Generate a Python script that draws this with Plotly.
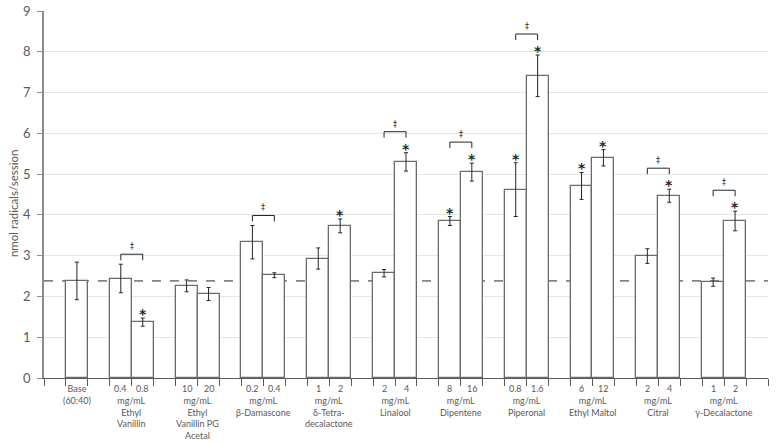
import plotly.graph_objects as go

# ---------------- data ----------------
base_label = "Base<br>(60:40)"
base_mean = 2.38
base_err = 0.46

group_names = ["Ethyl<br>Vanillin", "Ethyl<br>Vanillin PG<br>Acetal", "β-Damascone",
               "δ-Tetra-<br>decalactone", "Linalool", "Dipentene", "Piperonal",
               "Ethyl Maltol", "Citral", "γ-Decalactone"]
unit_label = "mg/mL"
concentrations = [["0.4", "0.8"], ["10", "20"], ["0.2", "0.4"], ["1", "2"], ["2", "4"],
                  ["8", "16"], ["0.8", "1.6"], ["6", "12"], ["2", "4"], ["1", "2"]]
means = [[2.44, 1.37], [2.26, 2.06], [3.33, 2.52], [2.93, 3.73], [2.57, 5.30],
         [3.85, 5.05], [4.62, 7.41], [4.71, 5.40], [2.99, 4.47], [2.35, 3.85]]
errors = [[0.35, 0.10], [0.145, 0.16], [0.41, 0.06], [0.26, 0.17], [0.09, 0.225],
          [0.11, 0.22], [0.66, 0.51], [0.33, 0.20], [0.18, 0.16], [0.10, 0.24]]
asterisk = [[False, True], [False, False], [False, False], [False, True], [False, True],
            [True, True], [True, True], [True, True], [False, True], [False, True]]
dagger = [True, False, True, False, True, True, True, False, True, True]

y_title = "nmol radicals/session"
y_ticks = [0, 1, 2, 3, 4, 5, 6, 7, 8, 9]

# ---------------- layout helpers ----------------
N_SLOTS = 33
PLOT_H_PX = 367.0
Y_MAX = 9.0
px = Y_MAX / PLOT_H_PX   # data units per pixel

xs, ys, es = [1], [base_mean], [base_err]
for g in range(len(group_names)):
    for b in range(2):
        xs.append(3 + 3 * g + b)
        ys.append(means[g][b])
        es.append(errors[g][b])

FONT = "Lato, Calibri, Carlito, sans-serif"
GRAY = "#595959"
INK = "#262626"

fig = go.Figure()
fig.add_trace(go.Bar(
    x=xs, y=ys, width=1.0,
    marker=dict(color="white", line=dict(color="#6b6b6b", width=1.3)),
    error_y=dict(type="data", array=es, visible=True, color=INK,
                 thickness=1, width=2),
    showlegend=False, hoverinfo="skip",
))

shapes = []
annotations = []

# baseline dashed reference line
shapes.append(dict(type="line", xref="paper", yref="y", x0=0, x1=1,
                   y0=base_mean, y1=base_mean, layer="below",
                   line=dict(color=INK, width=1, dash="dash")))

for g in range(len(group_names)):
    tops = []
    for b in range(2):
        x = 3 + 3 * g + b
        top = means[g][b] + errors[g][b]
        if asterisk[g][b]:
            annotations.append(dict(x=x, y=top + 8 * px, xref="x", yref="y",
                                    text="<b>*</b>", showarrow=False,
                                    yanchor="middle", yshift=-4,
                                    font=dict(family="DejaVu Sans", size=14, color=INK)))
            tops.append(top + 21 * px)
        else:
            tops.append(top + 10 * px)
    if dagger[g]:
        yb = max(tops)
        x0 = 3 + 3 * g
        x1 = x0 + 1
        shapes.append(dict(type="path", xref="x", yref="y",
                           path=f"M {x0} {yb - 6 * px} L {x0} {yb} L {x1} {yb} L {x1} {yb - 6 * px}",
                           line=dict(color=INK, width=1)))
        annotations.append(dict(x=(x0 + x1) / 2, y=yb + 7.5 * px, xref="x", yref="y",
                                text="‡", showarrow=False, yanchor="middle",
                                font=dict(family="DejaVu Sans", size=8, color=INK)))

# category labels
LBL = dict(family=FONT, size=9, color=GRAY)
annotations.append(dict(x=1, y=0, xref="x", yref="paper", text=base_label,
                        showarrow=False, yanchor="top", yshift=-3, font=LBL))
for g in range(len(group_names)):
    for b in range(2):
        annotations.append(dict(x=3 + 3 * g + b, y=0, xref="x", yref="paper",
                                text=concentrations[g][b], showarrow=False,
                                yanchor="top", yshift=-3, font=LBL))
    annotations.append(dict(x=3 + 3 * g + 0.5, y=0, xref="x", yref="paper",
                            text=unit_label + "<br>" + group_names[g], showarrow=False,
                            yanchor="top", yshift=-14.5, font=LBL))

# y-axis title
annotations.append(dict(x=0, y=0.474, xref="paper", yref="paper", text=y_title,
                        textangle=-90, showarrow=False, xanchor="center", yanchor="middle",
                        xshift=-31, font=dict(family=FONT, size=11.5, color=GRAY)))

fig.update_layout(
    width=776, height=445,
    margin=dict(l=44, r=8, t=11, b=67, autoexpand=False),
    paper_bgcolor="white", plot_bgcolor="white",
    shapes=shapes, annotations=annotations,
    font=dict(family=FONT, color=GRAY),
    bargap=0,
    xaxis=dict(range=[-0.5, N_SLOTS - 0.5],
               tickmode="array",
               tickvals=[k - 0.5 for k in range(N_SLOTS + 1)],
               ticktext=["" for _ in range(N_SLOTS + 1)],
               ticks="outside", ticklen=7, tickcolor=GRAY, tickwidth=1,
               showline=True, linecolor=GRAY, linewidth=1.3,
               showgrid=False, zeroline=False, fixedrange=True, automargin=False),
    yaxis=dict(range=[0, Y_MAX], tickvals=y_ticks,
               ticks="outside", ticklen=5, tickcolor="#8c8c8c", tickwidth=1,
               showline=True, linecolor="#8c8c8c", linewidth=1.5,
               showgrid=True, gridcolor="#e6e6e6", gridwidth=1.3,
               zeroline=False, automargin=False, ticklabelstandoff=4,
               tickfont=dict(family=FONT, size=13, color=GRAY)),
)

fig.write_html("out.html", config={"displayModeBar": False},
               post_script="document.body.style.margin='0';document.body.style.padding='0';")
